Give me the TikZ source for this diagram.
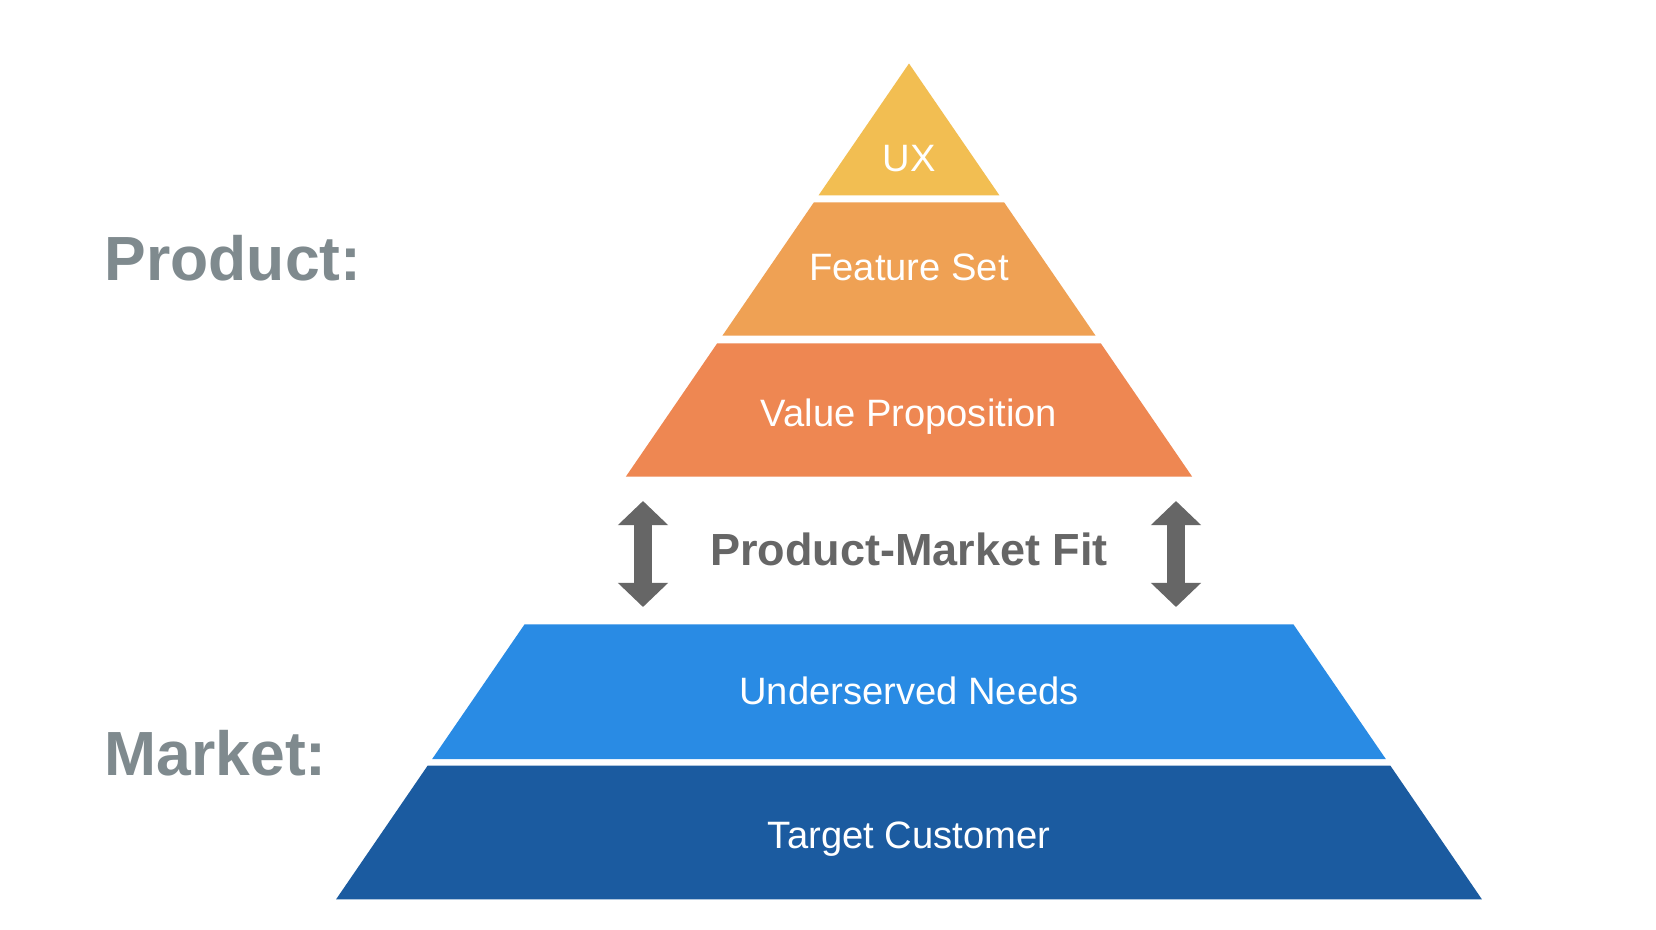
\documentclass[tikz,border=0pt]{standalone}
\usepackage{fontspec}
\setmainfont{Liberation Sans}
\usetikzlibrary{arrows.meta,positioning}
\definecolor{uxyellow}{RGB}{242,190,82}
\definecolor{featorange}{RGB}{239,161,84}
\definecolor{valueorange}{RGB}{238,135,82}
\definecolor{needsblue}{RGB}{41,139,228}
\definecolor{custblue}{RGB}{27,91,160}
\definecolor{labelgray}{RGB}{127,138,142}
\definecolor{fitgray}{RGB}{102,102,102}

\begin{document}
\begin{tikzpicture}[x=0.01cm, y=-0.01cm,
    bandtext/.style={white, inner sep=0pt, anchor=base, font=\fontsize{10.85}{13}\selectfont},
    sidelabel/.style={labelgray, inner sep=0pt, anchor=base west, font=\bfseries\fontsize{17.75}{20}\selectfont},
    fitarrow/.style={fitgray, line width=0.18cm,
      {Triangle[width=0.486cm,length=0.24cm]}-{Triangle[width=0.486cm,length=0.24cm]}}]
    \fill[white] (0,0) rectangle (1656,930);
    \useasboundingbox (0,0) rectangle (1656,930);

    % Product layers
    \fill[uxyellow] (909,63.5) -- (999.4,195.3) -- (818.6,195.3) -- cycle;
    \fill[featorange] (813.9,202.3) -- (1004.1,202.3) -- (1095.6,335.7) -- (722.4,335.7) -- cycle;
    \fill[valueorange] (717.2,343.3) -- (1100.8,343.3) -- (1192.2,476.7) -- (625.8,476.7) -- cycle;

    % Market layers
    \fill[needsblue] (524.6,624.3) -- (1293.4,624.3) -- (1385.8,759) -- (432.2,759) -- cycle;
    \fill[custblue] (427.6,765.7) -- (1390.4,765.7) -- (1481.9,899.3) -- (336.1,899.3) -- cycle;

    \node[bandtext] (ux) at (909,171.7) {UX};
    \node[bandtext] (features) at (909,280.7) {Feature Set};
    \node[bandtext] (value) at (909,426) {Value Proposition};
    \node[bandtext] (needs) at (909,704) {Underserved Needs};
    \node[bandtext] (customer) at (909,848) {Target Customer};

    % Fit
    \node[fitgray, inner sep=0pt, anchor=base, font=\bfseries\fontsize{12.8}{15}\selectfont]
      (fit) at (909,565.7) {Product-Market Fit};
    \coordinate (lTop) at (643,501);
    \coordinate (lBot) at (643,607);
    \coordinate (rTop) at (1176,501);
    \coordinate (rBot) at (1176,607);
    \draw[fitarrow] (lTop) -- (lBot);
    \draw[fitarrow] (rTop) -- (rBot);

    \node[sidelabel] (product) at (104,280) {Product:};
    \node[sidelabel] (market) at (104,775) {Market:};
\end{tikzpicture}
\end{document}
